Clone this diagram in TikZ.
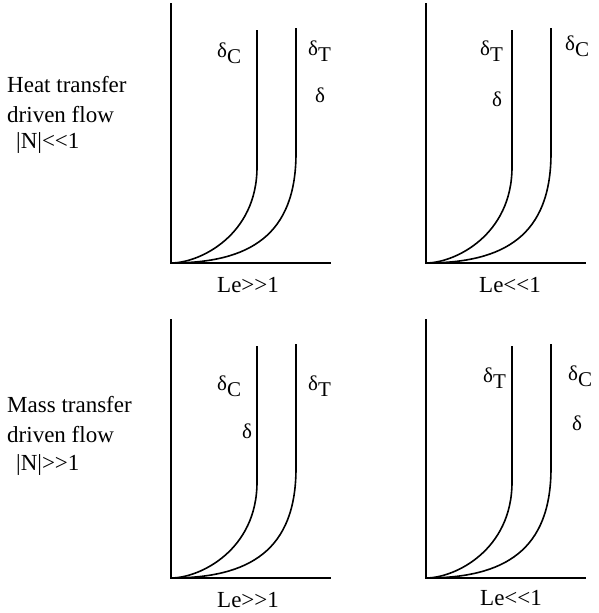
\documentclass[tikz,border=0pt]{standalone}
\usepackage{fontspec}
\setmainfont{Liberation Serif}
\newcommand\dsub[1]{δ\raisebox{-0.33em}{#1}}
\begin{document}
\begin{tikzpicture}[x=1pt,y=-1pt,
  lab/.style={anchor=base west,inner sep=0pt,font=\fontsize{21}{24}\selectfont},
  side/.style={anchor=base west,inner sep=0pt,font=\fontsize{23}{26}\selectfont},
  axis/.style={line width=2pt},
  curve/.style={line width=1.6pt}]
\useasboundingbox (0,0) rectangle (599,613);
% origin of each panel is its axis corner
\foreach \ox/\oy/\top in {171/263/3, 426/263/3, 171/578/319, 426/578/319}{
  \begin{scope}[shift={(\ox,\oy)}]
    \draw[axis] (0,\top-\oy) -- (0,0) -- (160,0);
    \draw[curve] (86,\top-\oy+27) -- (86,-96) .. controls (86,-28) and (29,0) .. (0,0);
    \draw[curve] (125,\top-\oy+25) -- (125,-110) .. controls (125,-28) and (79,0) .. (0,0);
  \end{scope}
}
% Top-left labels
\node[lab] (tlc) at (217,57) {\dsub{C}};
\node[lab] (tlt) at (308,55) {\dsub{T}};
\node[lab] (tld) at (315,102) {δ};
\node[side] (tle) at (217,292) {Le>\kern0pt>1};
% Top-right labels
\node[lab] (trt) at (480,55) {\dsub{T}};
\node[lab] (trd) at (492,106) {δ};
\node[lab] (trc) at (565,50) {\dsub{C}};
\node[side] (tre) at (479,292) {Le<\kern0pt<1};
% Bottom-left labels
\node[lab] (blc) at (217,390) {\dsub{C}};
\node[lab] (bld) at (242,438) {δ};
\node[lab] (blt) at (308,390) {\dsub{T}};
\node[side] (ble) at (217,607) {Le>\kern0pt>1};
% Bottom-right labels
\node[lab] (brt) at (483,382) {\dsub{T}};
\node[lab] (brc) at (568,380) {\dsub{C}};
\node[lab] (brd) at (572,430) {δ};
\node[side] (bre) at (480,605) {Le<\kern0pt<1};
% Side texts
\node[side] (h1) at (7,92) {Heat transfer};
\node[side] (h2) at (7,122) {driven flow};
\node[side] (h3) at (16,148) {|N|<\kern0pt<1};
\node[side] (m1) at (7,412) {Mass transfer};
\node[side] (m2) at (7,442) {driven flow};
\node[side] (m3) at (16,470) {|N|>\kern0pt>1};
\end{tikzpicture}
\end{document}
